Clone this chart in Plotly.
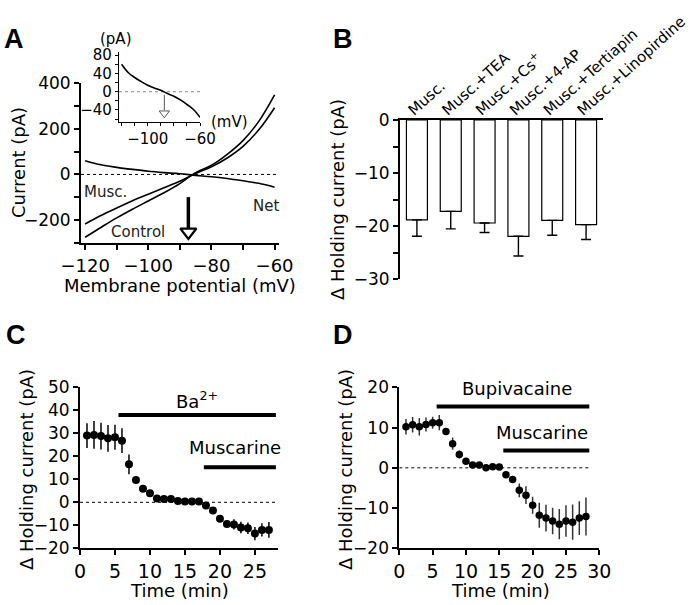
import plotly.graph_objects as go

FONT = "DejaVu Sans"

# ---------------- Panel A : I-V curves ----------------
voltage_mv = [-120, -115, -110, -105, -100, -95, -90, -85, -80, -75, -70, -65, -60]
control_pa = [-275, -232, -190, -152, -116, -80, -40, 8, 40, 88, 148, 232, 348]
musc_pa = [-217, -180, -147, -115, -87, -58, -30, 4, 33, 72, 123, 195, 292]
net_pa = [60, 42, 31, 22, 14, 8, 3, -4, -10, -18, -28, -39, -56]
reversal_mv = -87.3
a_xlabels = [-120, -100, -80, -60]
a_xminor = [-110, -90, -70]
a_ylabels = [-200, 0, 200, 400]
a_yminor = [-300, -100, 100, 300]
inset_xlabels = [-100, -60]
inset_xminor = [-120, -110, -90, -80, -70]
inset_ylabels = [-40, 0, 40, 80]
inset_yminor = [-60, -20, 20, 60]

# ---------------- Panel B : bars ----------------
b_categories = ["Musc.", "Musc.+TEA", "Musc.+Cs<sup>+</sup>", "Musc.+4-AP",
                "Musc.+Tertiapin", "Musc.+Linopirdine"]
b_values = [-18.8, -17.2, -19.4, -21.9, -18.9, -19.7]
b_errors = [3.1, 3.3, 1.8, 3.7, 2.8, 2.8]
b_ylabels = [-30, -20, -10, 0]
b_yminor = [-25, -15, -5]

# ---------------- Panel C : Ba2+ ----------------
c_time = list(range(1, 28))
c_values = [29.0, 29.3, 28.8, 27.8, 28.3, 26.8, 16.5, 9.7, 5.9, 3.9, 1.7, 1.4, 1.4,
            0.6, 0.3, 0.4, 0.3, -1.4, -3.6, -7.2, -9.4, -9.6, -11.0, -11.3, -13.6,
            -12.0, -12.0]
c_errors = [5.4, 6.0, 5.8, 5.8, 5.4, 5.4, 4.3, 1.0, 1.0, 1.0, 1.0, 1.0, 1.2, 0.8,
            0.8, 0.8, 0.8, 1.0, 1.0, 1.0, 1.5, 2.2, 2.5, 2.5, 2.9, 2.9, 3.4]
c_xticks = [0, 5, 10, 15, 20, 25]
c_yticks = [-20, -10, 0, 10, 20, 30, 40, 50]
c_ba_period = [5.5, 28.0]
c_ba_level = 38
c_musc_period = [17.7, 28.0]
c_musc_level = 15.2

# ---------------- Panel D : Bupivacaine ----------------
d_time = list(range(1, 29))
d_values = [10.2, 10.7, 10.2, 10.75, 11.2, 11.2, 9.0, 6.0, 3.3, 1.6, 0.7, 0.7, 0.0,
            0.25, 0.2, -1.7, -2.9, -5.6, -6.8, -9.3, -11.8, -12.5, -13.2, -14.0,
            -13.2, -13.5, -12.5, -12.1]
d_errors = [1.9, 1.9, 2.2, 1.75, 1.5, 1.9, 0.8, 1.5, 1.0, 0.5, 0.5, 0.5, 0.5, 0.5,
            0.5, 0.8, 0.8, 1.7, 2.2, 2.1, 3.1, 3.3, 3.3, 3.75, 3.9, 4.4, 4.2, 4.7]
d_xticks = [0, 5, 10, 15, 20, 25, 30]
d_yticks = [-20, -10, 0, 10, 20]
d_bupi_period = [5.6, 28.5]
d_bupi_level = 15.2
d_musc_period = [15.6, 28.5]
d_musc_level = 4.3

W, H = 693, 605


def dom_x(a, b):
    return [a / W, b / W]


def dom_y(top, bottom):
    return [1 - bottom / H, 1 - top / H]


fig = go.Figure()

# ---- A main
fig.add_trace(go.Scatter(x=[-121.3, -58.6], y=[0, 0], mode="lines",
                         line=dict(color="black", width=1, dash="dot"),
                         xaxis="x", yaxis="y", hoverinfo="skip"))
for series in (control_pa, musc_pa, net_pa):
    fig.add_trace(go.Scatter(x=voltage_mv, y=series, mode="lines",
                             line=dict(color="black", width=1.6, shape="spline"),
                             xaxis="x", yaxis="y"))
fig.add_trace(go.Scatter(x=[reversal_mv, reversal_mv], y=[-99, -238], mode="lines",
                         line=dict(color="black", width=3.5), xaxis="x", yaxis="y"))
fig.add_trace(go.Scatter(x=[reversal_mv], y=[-252], mode="markers",
                         marker=dict(symbol="triangle-down", size=14, color="white",
                                     line=dict(color="black", width=2.2)),
                         xaxis="x", yaxis="y"))

# ---- A inset
fig.add_trace(go.Scatter(x=[-122, -60], y=[0, 0], mode="lines",
                         line=dict(color="#888888", width=1, dash="dot"),
                         xaxis="x2", yaxis="y2", hoverinfo="skip"))
fig.add_trace(go.Scatter(x=voltage_mv, y=net_pa, mode="lines",
                         line=dict(color="black", width=1.6, shape="spline"),
                         xaxis="x2", yaxis="y2"))
fig.add_trace(go.Scatter(x=[reversal_mv, reversal_mv], y=[-7, -40], mode="lines",
                         line=dict(color="#555555", width=1), xaxis="x2", yaxis="y2"))
fig.add_trace(go.Scatter(x=[reversal_mv], y=[-47], mode="markers",
                         marker=dict(symbol="triangle-down", size=9, color="white",
                                     line=dict(color="#555555", width=1)),
                         xaxis="x2", yaxis="y2"))

# ---- B bars
fig.add_trace(go.Bar(x=b_categories, y=b_values, width=0.62,
                     marker=dict(color="white", line=dict(color="black", width=1.2)),
                     error_y=dict(type="data", symmetric=False, array=[0] * len(b_values),
                                  arrayminus=b_errors, color="black", thickness=1.4,
                                  width=5),
                     xaxis="x3", yaxis="y3"))

# ---- C
fig.add_trace(go.Scatter(x=[0, 28.3], y=[0, 0], mode="lines",
                         line=dict(color="black", width=1, dash="dot"),
                         xaxis="x4", yaxis="y4", hoverinfo="skip"))
fig.add_trace(go.Scatter(x=c_time, y=c_values, mode="markers",
                         marker=dict(color="black", size=8),
                         error_y=dict(type="data", array=c_errors, color="black",
                                      thickness=1.5, width=0),
                         xaxis="x4", yaxis="y4"))
fig.add_trace(go.Scatter(x=c_ba_period, y=[c_ba_level] * 2, mode="lines",
                         line=dict(color="black", width=4), xaxis="x4", yaxis="y4"))
fig.add_trace(go.Scatter(x=c_musc_period, y=[c_musc_level] * 2, mode="lines",
                         line=dict(color="black", width=4), xaxis="x4", yaxis="y4"))

# ---- D
fig.add_trace(go.Scatter(x=[0, 28.5], y=[0, 0], mode="lines",
                         line=dict(color="black", width=1, dash="dot"),
                         xaxis="x5", yaxis="y5", hoverinfo="skip"))
fig.add_trace(go.Scatter(x=d_time, y=d_values, mode="markers",
                         marker=dict(color="black", size=7.5),
                         error_y=dict(type="data", array=d_errors, color="#333333",
                                      thickness=1.5, width=0),
                         xaxis="x5", yaxis="y5"))
fig.add_trace(go.Scatter(x=d_bupi_period, y=[d_bupi_level] * 2, mode="lines",
                         line=dict(color="black", width=4), xaxis="x5", yaxis="y5"))
fig.add_trace(go.Scatter(x=d_musc_period, y=[d_musc_level] * 2, mode="lines",
                         line=dict(color="black", width=4), xaxis="x5", yaxis="y5"))

tickfont = dict(family=FONT, size=17, color="black")
bigtick = dict(family=FONT, size=19, color="black")
titlefont = dict(family=FONT, size=18, color="black")
smallfont = dict(family=FONT, size=15, color="black")


def ax(**kw):
    base = dict(showline=True, linecolor="black", linewidth=1.8, ticks="outside",
                ticklen=5, tickwidth=1.5, tickcolor="black", showgrid=False,
                zeroline=False, tickfont=tickfont, fixedrange=True, automargin=False)
    base.update(kw)
    return base


def minor(vals, length=5, width=1.5):
    return dict(tickmode="array", tickvals=vals, ticks="outside", ticklen=length,
                tickwidth=width, tickcolor="black", showgrid=False)


fig.update_layout(
    width=W, height=H, margin=dict(l=0, r=0, t=0, b=0),
    paper_bgcolor="white", plot_bgcolor="white", showlegend=False,
    font=dict(family=FONT, color="black"),
    xaxis=ax(domain=dom_x(81, 279), anchor="y", range=[-121.3, -58.6],
             tickmode="array", tickvals=a_xlabels, minor=minor(a_xminor),
             tickfont=dict(family=FONT, size=18, color="black")),
    yaxis=ax(domain=dom_y(83, 243), anchor="x", range=[-300, 400],
             tickmode="array", tickvals=a_ylabels, minor=minor(a_yminor)),
    xaxis2=ax(domain=dom_x(119, 200), anchor="y2", range=[-122, -60], linewidth=1.2,
              tickwidth=1, ticklen=3, tickmode="array", tickvals=inset_xlabels,
              minor=minor(inset_xminor, 3, 1), tickfont=smallfont),
    yaxis2=ax(domain=dom_y(51.7, 121.7), anchor="x2", range=[-65.6, 87.4],
              linewidth=1.2, tickwidth=1, ticklen=3, tickmode="array",
              tickvals=inset_ylabels, minor=minor(inset_yminor, 3, 1),
              tickfont=smallfont),
    xaxis3=ax(domain=dom_x(400, 603), anchor="y3", type="category", side="top",
              range=[-0.5, 5.5], ticks="", tickangle=-42,
              ticklabelshift=-8, ticklabelstandoff=-6,
              tickfont=dict(family=FONT, size=15, color="black")),
    yaxis3=ax(domain=dom_y(120, 279.3), anchor="x3", range=[-30, 0],
              tickmode="array", tickvals=b_ylabels, minor=minor(b_yminor)),
    xaxis4=ax(domain=dom_x(80, 278), anchor="y4", range=[0, 28.3],
              tickmode="array", tickvals=c_xticks, tickfont=bigtick),
    yaxis4=ax(domain=dom_y(387.3, 548.3), anchor="x4", range=[-20, 50],
              tickmode="array", tickvals=c_yticks),
    xaxis5=ax(domain=dom_x(399.3, 599.3), anchor="y5", range=[0, 30],
              tickmode="array", tickvals=d_xticks, tickfont=bigtick),
    yaxis5=ax(domain=dom_y(387.3, 548.3), anchor="x5", range=[-20, 20],
              tickmode="array", tickvals=d_yticks),
)


def paper_text(text, px, py, font, angle=0):
    return dict(text=text, x=px / W, y=1 - py / H, xref="paper", yref="paper",
                showarrow=False, font=font, textangle=angle,
                xanchor="center", yanchor="middle")


lbl = dict(family=FONT, size=15, color="#222222")
ylab = "\u0394 Holding current (pA)"
ann = [
    dict(text="Musc.", x=-113.4, y=-78, xref="x", yref="y", showarrow=False, font=lbl),
    dict(text="Control", x=-103.2, y=-252, xref="x", yref="y", showarrow=False, font=lbl),
    dict(text="Net", x=-62.7, y=-139, xref="x", yref="y", showarrow=False, font=lbl),
    paper_text("(pA)", 116, 39, smallfont),
    paper_text("(mV)", 229, 122, smallfont),
    dict(text="Ba<sup>2+</sup>", x=16.7, y=44.5, xref="x4", yref="y4", showarrow=False,
         font=titlefont),
    dict(text="Muscarine", x=22.1, y=24, xref="x4", yref="y4", showarrow=False,
         font=titlefont),
    dict(text="Bupivacaine", x=17.6, y=19.8, xref="x5", yref="y5", showarrow=False,
         font=titlefont),
    dict(text="Muscarine", x=21.4, y=8.75, xref="x5", yref="y5", showarrow=False,
         font=titlefont),
    # axis titles
    paper_text("Membrane potential (mV)", 180, 285, titlefont),
    paper_text("Current (pA)", 18, 163, titlefont, -90),
    paper_text(ylab, 337, 200, titlefont, -90),
    paper_text("Time (min)", 180, 590, titlefont),
    paper_text(ylab, 26, 470, titlefont, -90),
    paper_text("Time (min)", 500, 590, titlefont),
    paper_text(ylab, 345, 470, titlefont, -90),
]
for letter, px, py in (("A", 14, 39), ("B", 343, 39), ("C", 16, 335), ("D", 343, 335)):
    ann.append(paper_text("<b>%s</b>" % letter, px, py,
                          dict(family="Liberation Sans", size=27, color="black")))
fig.update_layout(annotations=ann)

fig.write_html("out.html", config={"displayModeBar": False},
               post_script="document.body.style.margin='0';document.body.style.overflow='hidden';")
